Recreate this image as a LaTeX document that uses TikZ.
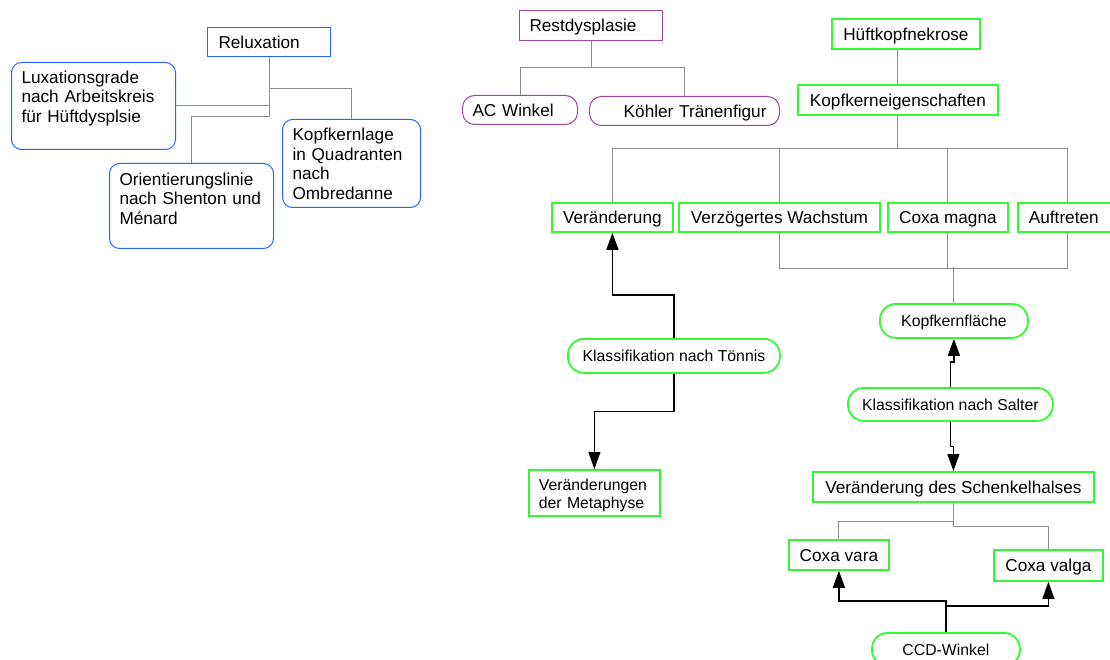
\documentclass[tikz,border=0pt]{standalone}
\usepackage{fontspec}
\setmainfont{Liberation Sans}
\usetikzlibrary{arrows.meta}
\definecolor{boxblue}{RGB}{40,100,255}
\definecolor{boxpurple}{RGB}{160,70,160}
\definecolor{boxgreen}{RGB}{50,250,50}
\definecolor{linegray}{RGB}{140,140,140}
\newcommand\fsbig{\fontsize{17.2}{19.5}\selectfont}
\newcommand\fssmall{\fontsize{15.8}{18}\selectfont}
\hyphenpenalty=10000

\begin{document}
\begin{tikzpicture}[x=1pt,y=-1pt,
    box/.style={draw,line width=1pt,anchor=north west,inner sep=0pt,font=\fsbig,
      text height=12.3pt,text depth=0pt},
    bluebox/.style={box,draw=boxblue},
    purplebox/.style={box,draw=boxpurple},
    greenbox/.style={box,draw=boxgreen,line width=1.8pt},
    pill/.style={greenbox,rounded corners=16pt,font=\fssmall,text height=11.3pt},
    tree/.style={draw=linegray,line width=1pt},
    arr/.style={line width=1.2pt,-{Triangle[width=12pt,length=17pt]}}]
  \useasboundingbox (0,0) rectangle (1110,660);

  % Reluxation
  \node[bluebox,minimum height=29pt,text width=101pt,inner xsep=11pt,align=left] (relux) at (207,27) {Reluxation};
  \node[bluebox,rounded corners=10pt,text width=144pt,inner xsep=10pt,align=left,
    text height=21pt,text depth=66pt] (luxgr) at (11,62) {Luxationsgrade\\nach Arbeitskreis\\für Hüftdysplsie};
  \node[bluebox,rounded corners=10pt,text width=144pt,inner xsep=10pt,align=left,
    text height=22pt,text depth=63pt] (orient) at (109,163) {Orientierungslinie\\nach Shenton und\\Ménard};
  \node[bluebox,rounded corners=10pt,text width=118pt,inner xsep=10pt,align=left,
    text height=21.5pt,text depth=66.5pt] (kopfl) at (282,119) {Kopfkernlage\\in Quadranten\\nach\\Ombredanne};

  \draw[tree] (relux.south) -- ++(0,60) -| (orient.north);
  \draw[tree] (relux.south) -- ++(0,32) -| (kopfl.north);
  \draw[tree] (luxgr.east) -- (luxgr.east -| relux.south);

  % Restdysplasie
  \node[purplebox,minimum height=30pt,text width=123pt,inner xsep=10pt,align=left] (restd) at (519,10) {Restdysplasie};
  \node[purplebox,rounded corners=12pt,minimum height=29pt,text width=95pt,inner xsep=10pt,align=left] (acw) at (462,95) {AC Winkel};
  \node[purplebox,rounded corners=12pt,minimum height=29pt,text width=164pt,inner xsep=13pt,align=right] (koehler) at (589,96) {Köhler Tränenfigur};

  \draw[tree] (restd.south) -- ++(0,27) -| (acw.north);
  \draw[tree] (restd.south) -- ++(0,27) -| (koehler.north);

  % Hueftkopfnekrose
  \node[greenbox,minimum width=148pt,minimum height=30pt] (huefte) at (831,18) {Hüftkopfnekrose};
  \node[greenbox,minimum width=200pt,minimum height=30pt] (kkeig) at (797,84) {Kopfkerneigenschaften};
  \node[greenbox,minimum width=121pt,minimum height=29pt] (ver) at (551,202) {Veränderung};
  \node[greenbox,minimum width=201pt,minimum height=29pt] (verz) at (678,202) {Verzögertes Wachstum};
  \node[greenbox,minimum width=120pt,minimum height=29pt] (cmag) at (887,202) {Coxa magna};
  \node[greenbox,minimum height=29pt,text width=78pt,inner xsep=11pt,align=left] (auft) at (1017,202) {Auftreten};
  \node[pill,minimum width=148pt,minimum height=34pt] (kfl) at (879,303) {Kopfkernfläche};
  \node[pill,minimum width=212pt,minimum height=34pt] (toennis) at (567,338) {Klassifikation nach Tönnis};
  \node[greenbox,font=\fssmall,text width=111pt,inner xsep=10pt,align=left,
    text height=20.5pt,text depth=25.5pt] (meta) at (528,469) {Veränderungen\\der Metaphyse};
  \node[pill,minimum width=205pt,minimum height=33pt] (salter) at (847,387) {Klassifikation nach Salter};
  \node[greenbox,minimum width=281pt,minimum height=30pt] (schenk) at (812,471) {Veränderung des Schenkelhalses};
  \node[greenbox,minimum width=100pt,minimum height=30pt] (cvara) at (788,539) {Coxa vara};
  \node[greenbox,minimum width=109pt,minimum height=31pt] (cvalga) at (993,549) {Coxa valga};
  \node[pill,minimum width=148pt,minimum height=33pt] (ccd) at (871,632) {CCD-Winkel};

  \draw[tree] (huefte.south -| kkeig.north) -- (kkeig.north);
  \foreach \n in {ver,verz,cmag,auft}
    \draw[tree] (kkeig.south) -- ++(0,33) -| (\n.north);
  \draw[tree] (verz.south) -- ++(0,36) -| (auft.south);
  \draw[tree] (cmag.south) -- ++(0,36);
  \draw[tree] (kfl.north) -- ++(0,-36);

  \draw[arr] (toennis.north) -- ++(0,-43) -| (ver.south);
  \draw[arr] (toennis.south) -- ++(0,38) -| (meta.north);
  \draw[arr] (salter.north) -- ++(0,-25) -| (kfl.south);
  \draw[arr] (salter.south) -- ++(0,25) -| (schenk.north);

  \draw[tree] (schenk.south) -- ++(0,19) -| (cvara.north);
  \draw[tree] (schenk.south) -- ++(0,24) -| (cvalga.north);
  \draw[arr] (ccd.north) -- ++(0,-31) -| (cvara.south);
  \draw[arr] (ccd.north) -- ++(0,-26) -| (cvalga.south);
\end{tikzpicture}
\end{document}
